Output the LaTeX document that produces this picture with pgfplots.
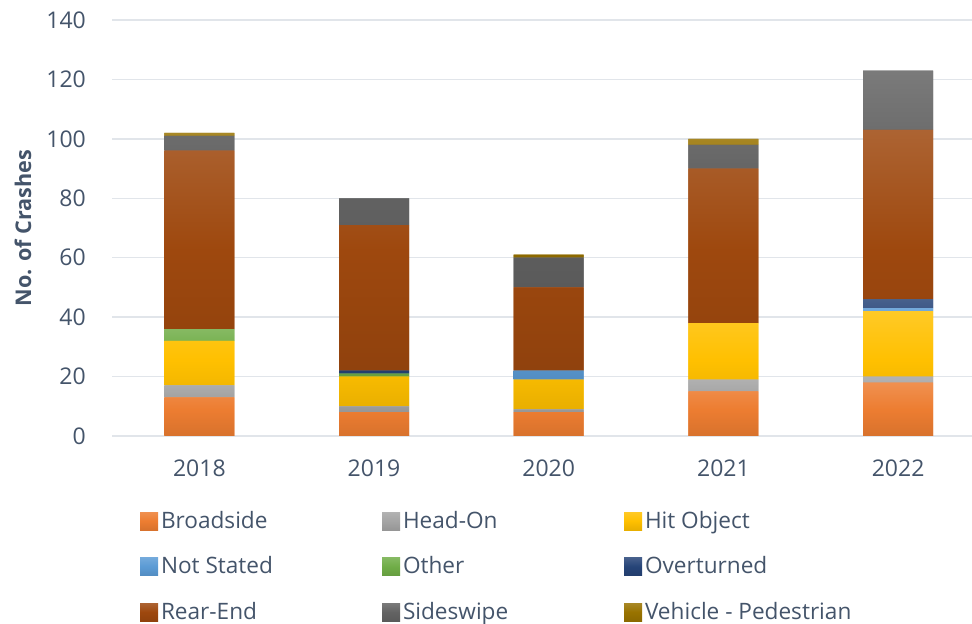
\documentclass[border=0pt]{standalone}
\usepackage{pgfplots}
\pgfplotsset{compat=1.18}
\usepackage{fontspec}
\setmainfont{Open Sans}
\definecolor{txt}{HTML}{44546A}
\definecolor{gridc}{HTML}{E1E5EA}
\definecolor{cBroad}{HTML}{ED7D31}
\definecolor{cHead}{HTML}{A5A5A5}
\definecolor{cHit}{HTML}{FFC000}
\definecolor{cNot}{HTML}{5B9BD5}
\definecolor{cOther}{HTML}{70AD47}
\definecolor{cOver}{HTML}{264478}
\definecolor{cRear}{HTML}{9E480E}
\definecolor{cSide}{HTML}{636363}
\definecolor{cPed}{HTML}{997300}
\tikzset{grad/.style={fill=#1, top color=#1!85!white, bottom color=#1!91!black, middle color=#1}}
\newcommand{\legtxt}[1]{\makebox[200bp][l]{\rule{0pt}{16bp}\smash{#1}}}
\begin{document}
\begin{tikzpicture}
\begin{axis}[
  at={(112bp,188bp)}, anchor=south west,
  scale only axis, width=860bp, height=416bp,
  ybar stacked, bar width=70bp,
  xmin=-0.5, xmax=4.423, ymin=0, ymax=140,
  xtick={0,1,2,3,4}, xticklabels={2018,2019,2020,2021,2022},
  ytick={0,20,...,140},
  ymajorgrids, grid style={gridc, line width=1.3bp},
  axis line style={draw=none}, tick style={draw=none},
  /pgf/number format/assume math mode=true,
  ticklabel style={font=\fontsize{23bp}{27bp}\selectfont, text=txt},
  yticklabel style={inner sep=0pt, anchor=east, xshift=-26bp},
  xticklabel style={inner sep=0pt, anchor=north, yshift=-24bp},
  ylabel={No. of Crashes},
  every axis y label/.style={at={(axis description cs:-0.1035,0.5)}, rotate=90, anchor=center,
    font=\fontsize{21.6bp}{25bp}\selectfont\bfseries, text=txt},
  legend columns=3,
  legend style={at={(axis description cs:0.03256,-0.1827)}, anchor=north west,
    draw=none, fill=none, inner sep=0pt, outer sep=0pt, row sep=27.5bp,
    nodes={inner sep=0pt, text=txt, font=\fontsize{22.6bp}{26bp}\selectfont},
    /tikz/every odd column/.append style={column sep=3bp},
    /tikz/every even column/.append style={column sep=21bp}},
  legend cell align=left,
  legend image code/.code={\path[#1, draw=none] (0bp,-9bp) rectangle (18bp,9bp);},
]
\addplot[draw=none, grad=cBroad] coordinates {(0,13) (1,8) (2,8) (3,15) (4,18)};
\addlegendentry{\legtxt{Broadside}}
\addplot[draw=none, grad=cHead] coordinates {(0,4) (1,2) (2,1) (3,4) (4,2)};
\addlegendentry{\legtxt{Head-On}}
\addplot[draw=none, grad=cHit] coordinates {(0,15) (1,10) (2,10) (3,19) (4,22)};
\addlegendentry{\legtxt{Hit Object}}
\addplot[draw=none, grad=cNot] coordinates {(0,0) (1,0) (2,3) (3,0) (4,1)};
\addlegendentry{\legtxt{Not Stated}}
\addplot[draw=none, grad=cOther] coordinates {(0,4) (1,1) (2,0) (3,0) (4,0)};
\addlegendentry{\legtxt{Other}}
\addplot[draw=none, grad=cOver] coordinates {(0,0) (1,1) (2,0) (3,0) (4,3)};
\addlegendentry{\legtxt{Overturned}}
\addplot[draw=none, grad=cRear] coordinates {(0,60) (1,49) (2,28) (3,52) (4,57)};
\addlegendentry{\legtxt{Rear-End}}
\addplot[draw=none, grad=cSide] coordinates {(0,5) (1,9) (2,10) (3,8) (4,20)};
\addlegendentry{\legtxt{Sideswipe}}
\addplot[draw=none, grad=cPed] coordinates {(0,1) (1,0) (2,1) (3,2) (4,0)};
\addlegendentry{\legtxt{Vehicle - Pedestrian}}
\end{axis}
\pgfresetboundingbox
\useasboundingbox (0,0) rectangle (972bp,624bp);
\end{tikzpicture}
\end{document}
